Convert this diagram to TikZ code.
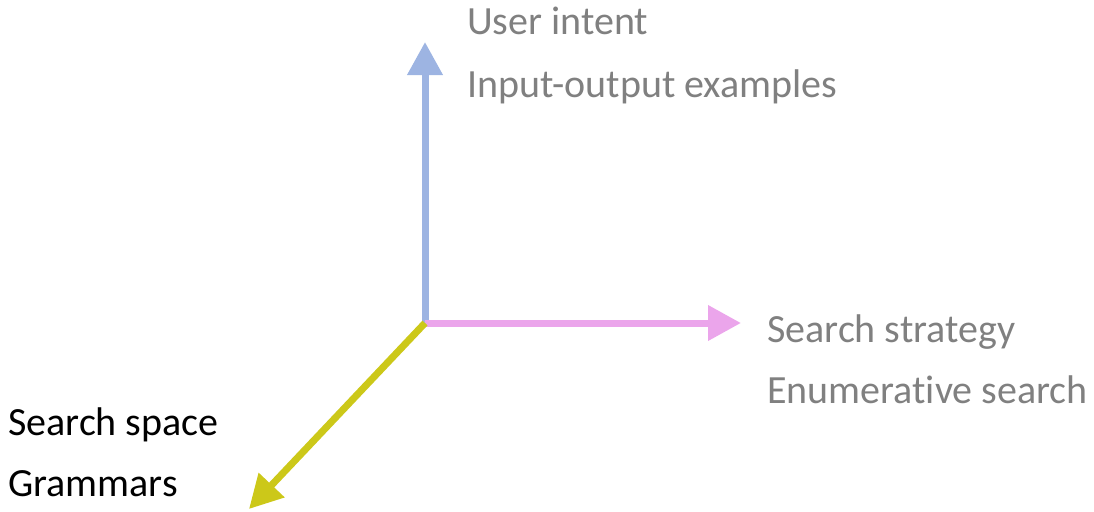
\documentclass[tikz,border=0pt]{standalone}
\usepackage{fontspec}
\setmainfont{Carlito}[Ligatures=NoCommon]
\usetikzlibrary{arrows.meta}
\definecolor{axisblue}{RGB}{157,180,226}
\definecolor{axispink}{RGB}{235,165,235}
\definecolor{axisyellow}{RGB}{204,200,25}
\definecolor{labelgray}{RGB}{128,128,128}
\tikzset{
  axis/.style={line width=7pt, -{Triangle[width=34pt,length=33pt]}},
  lbl/.style={anchor=base west, inner sep=0pt, font=\fontsize{40}{48}\selectfont},
}
\begin{document}
\begin{tikzpicture}[x=1pt,y=-1pt]
  \useasboundingbox (0,0) rectangle (1094,511);
  % axes meeting at the origin
  \coordinate (o) at (425,323);
  \coordinate (up) at (425,42);
  \coordinate (right) at (741,323);
  \coordinate (down) at (249,509);
  \draw[axis, axisblue] (o) -- (up);
  \draw[axis, axispink] (o) -- (right);
  \draw[axis, axisyellow] (o) -- (down);
  % axis labels
  \node[lbl, labelgray] (intent) at (467,35) {User intent};
  \node[lbl, labelgray] (io) at (467,97) {Input-output examples};
  \node[lbl, labelgray] (strategy) at (767,342) {Search strategy};
  \node[lbl, labelgray] (enum) at (767,403) {Enumerative search};
  \node[lbl, black] (space) at (8,435) {Search space};
  \node[lbl, black] (gram) at (8,496) {Grammars};
\end{tikzpicture}
\end{document}
